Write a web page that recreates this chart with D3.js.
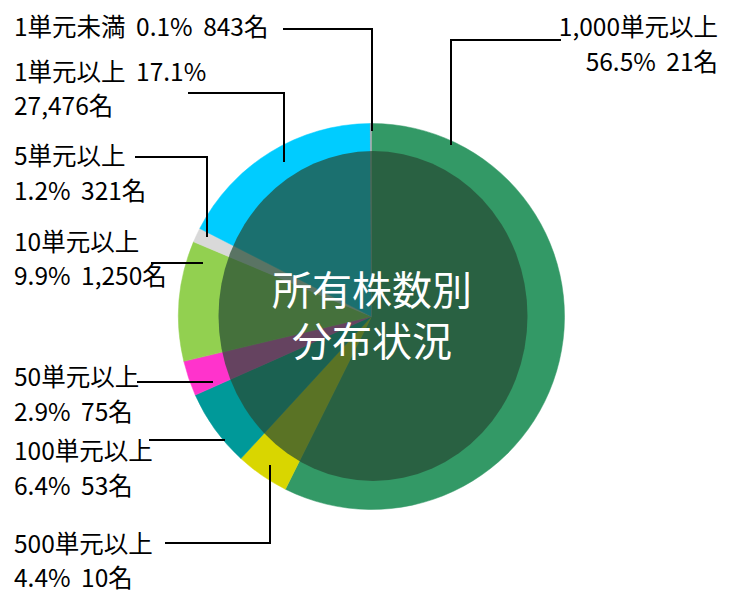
<!DOCTYPE html>
<html>
<head>
<meta charset="utf-8">
<script src="https://cdn.jsdelivr.net/npm/d3@7/dist/d3.min.js"></script>
<style>
  html, body { margin: 0; padding: 0; background: #fff; }
  svg { display: block; }
</style>
</head>
<body>
<svg id="chart" width="732" height="602"></svg>
<script>
// ---- data ----
const categories = ["1,000単元以上", "500単元以上", "100単元以上", "50単元以上", "10単元以上", "5単元以上", "1単元以上", "1単元未満"];
const shares = [56.5, 4.4, 6.4, 2.9, 9.9, 1.2, 17.1, 0.1];
const holders = ["21", "10", "53", "75", "1,250", "321", "27,476", "843"];
const colors = ["#339966", "#D9D600", "#009999", "#FF33CC", "#92D050", "#D9D9D9", "#00CCFF", "#A6A6A6"];
const centerTitle = ["所有株数別", "分布状況"];

// ---- layout ----
const cx = 371.5, cy = 316.5, R = 193;
const svg = d3.select("#chart");
const fontLabel = "'Noto Sans CJK JP', 'Noto Sans', sans-serif";

const pie = d3.pie().sort(null).value(d => d.v).startAngle(0).endAngle(2 * Math.PI);
const data = categories.map((c, i) => ({ c, v: shares[i], h: holders[i], col: colors[i] }));
const arcs = pie(data);
const arc = d3.arc().innerRadius(0).outerRadius(R);

const g = svg.append("g").attr("transform", `translate(${cx},${cy})`);
g.selectAll("path.slice").data(arcs).enter().append("path")
  .attr("class", "slice")
  .attr("d", arc)
  .attr("fill", d => d.data.col)
  .attr("stroke", d => d.data.col)
  .attr("stroke-width", 0.5);

// dark overlay ellipse
svg.append("ellipse")
  .attr("cx", 373).attr("cy", 316)
  .attr("rx", 154.5).attr("ry", 165)
  .attr("fill", "rgb(38,75,52)")
  .attr("fill-opacity", 0.71);

// center title (one text block, two lines)
const title = svg.append("text")
  .attr("text-anchor", "middle")
  .attr("font-family", fontLabel)
  .attr("font-size", 40)
  .attr("fill", "#fff");
title.selectAll("tspan").data(centerTitle).enter().append("tspan")
  .attr("x", 372)
  .attr("y", (d, i) => 305 + i * 51)
  .text(d => d);

// label annotations (layout per category index)
const fmtLines = i => {
  const c = categories[i], p = shares[i].toFixed(1) + "%", h = holders[i] + "名";
  return { c, p, h };
};
const labelLayout = [
  { i: 0, anchor: "end", x: 718, ys: [25, 60], lines: t => [t.c, `${t.p} ${t.h}`],
    path: [[561, 40], [451, 40], [451, 145]] },
  { i: 7, anchor: "start", x: 14, ys: [25], lines: t => [`${t.c} ${t.p} ${t.h}`],
    path: [[283, 29], [372, 29], [372, 131]] },
  { i: 6, anchor: "start", x: 14, ys: [70, 104], lines: t => [`${t.c} ${t.p}`, t.h],
    path: [[188, 93], [284, 93], [284, 162]] },
  { i: 5, anchor: "start", x: 14, ys: [154, 189], lines: t => [t.c, `${t.p} ${t.h}`],
    path: [[135, 157], [207, 157], [207, 237]] },
  { i: 4, anchor: "start", x: 14, ys: [240, 274], lines: t => [t.c, `${t.p} ${t.h}`],
    path: [[151, 263], [203, 263]] },
  { i: 3, anchor: "start", x: 14, ys: [375, 410], lines: t => [t.c, `${t.p} ${t.h}`],
    path: [[137, 382], [213, 382]] },
  { i: 2, anchor: "start", x: 14, ys: [449, 484], lines: t => [t.c, `${t.p} ${t.h}`],
    path: [[149, 440], [225, 440]] },
  { i: 1, anchor: "start", x: 14, ys: [542, 576], lines: t => [t.c, `${t.p} ${t.h}`],
    path: [[165, 543], [270, 543], [270, 465]] }
];

const line = d3.line();
const ann = svg.append("g");
labelLayout.forEach(L => {
  const t = fmtLines(L.i);
  ann.append("path")
    .attr("d", line(L.path))
    .attr("fill", "none")
    .attr("stroke", "#000")
    .attr("stroke-width", 2);
  L.lines(t).forEach((s, k) => {
    ann.append("text")
      .attr("x", L.x).attr("y", L.ys[k])
      .attr("text-anchor", L.anchor)
      .attr("dominant-baseline", "central")
      .attr("font-family", fontLabel)
      .attr("font-size", 24.5)
      .attr("word-spacing", 5)
      .attr("fill", "#000")
      .text(s);
  });
});
</script>
</body>
</html>
